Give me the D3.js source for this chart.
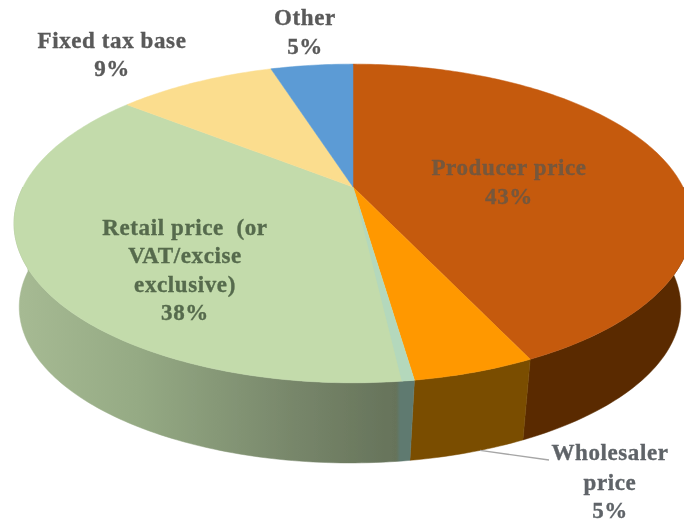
<!DOCTYPE html>
<html><head><meta charset="utf-8">
<script src="https://cdn.jsdelivr.net/npm/d3@7/dist/d3.min.js"></script>
<style>html,body{margin:0;padding:0;background:#fff}svg{display:block}text{font-family:"Liberation Serif",serif;font-weight:700;font-size:23px;letter-spacing:.6px;text-anchor:middle;stroke-width:.35px}</style>
</head><body><svg id="c" width="684" height="522"></svg>
<script>
const categories = ["Producer price","Wholesaler price","Retail price (or VAT/excise exclusive)","Fixed tax base","Other"];
const values = [43.0, 4.7, 38.0, 9.4, 4.9];
const labelLines = [["Producer price"],["Wholesaler","price"],["Retail price  (or","VAT/excise","exclusive)"],["Fixed tax base"],["Other"]];

const topColors = ["#c55a11","#ff9800","#c3dbab","#fbdd8e","#5b9bd5"];
const sideColors = ["#5a2c02","#7a4d00","url(#retailSide)","#000","#000"];
const labelColors = ["#75583c","#5f6468","#566b4d","#5a5a5a","#5a5a5a"];
const labelAnchors = [[509,175],[610,460],[185,235],[112,48],[305,25]];
const lineGaps = [[29],[30,28],[28,29,28],[28],[29]];

const svg = d3.select("#c");
const defs = svg.append("defs");
const g = defs.append("linearGradient").attr("id","retailSide").attr("gradientUnits","userSpaceOnUse")
  .attr("x1",20).attr("x2",414).attr("y1",0).attr("y2",0);
[[0,"#a6ba93"],[.3,"#95aa84"],[.7,"#77866a"],[.955,"#66735a"],[.965,"#5f7a70"],[1,"#5f7a70"]]
  .forEach(([o,c])=>g.append("stop").attr("offset",o).attr("stop-color",c));
defs.append("filter").attr("id","soft").append("feGaussianBlur").attr("stdDeviation",0.7);

// perspective projection of a disc: k foreshortens the far edge
const k = 0.2288;
const topFace = {cx:353, cy:187, bx:330, ay:151};
const baseFace = {cx:350, cy:271.3, bx:322, ay:147.8};
const project = (f,a) => {
  const d = 1 + k*Math.cos(a);
  return [f.cx + f.bx*Math.sin(a)/d, f.cy - f.ay*Math.cos(a)/d];
};
const arcPts = (f,a0,a1) => {
  const n = Math.max(2, Math.ceil(Math.abs(a1-a0)*60));
  return d3.range(n+1).map(i => project(f, a0+(a1-a0)*i/n));
};
const line = d3.line();
const slices = d3.pie().sort(null).value(d=>d)(values);

const root = svg.append("g").attr("filter","url(#soft)");

// walls (front half only)
const wallStart = Math.PI/2, wallEnd = 3*Math.PI/2;
slices.forEach((s,i)=>{
  const a0 = Math.max(s.startAngle, wallStart), a1 = Math.min(s.endAngle, wallEnd);
  if (a1 <= a0) return;
  root.append("path")
    .attr("d", line(arcPts(topFace,a0,a1).concat(arcPts(baseFace,a1,a0)))+"Z")
    .attr("fill", sideColors[i]).attr("stroke", sideColors[i]).attr("stroke-width",.5);
});
// top face
slices.forEach((s,i)=>{
  root.append("path")
    .attr("d", line([[topFace.cx,topFace.cy]].concat(arcPts(topFace,s.startAngle,s.endAngle)))+"Z")
    .attr("fill", topColors[i]).attr("stroke", topColors[i]).attr("stroke-width",.5);
});
// pale sheen along the leading edge of the retail slice
root.append("path")
  .attr("d", line([[topFace.cx,topFace.cy]].concat(arcPts(topFace,slices[2].startAngle,slices[2].startAngle+0.03)))+"Z")
  .attr("fill","#b4d8bc");
// leader line for the outside label
const w = slices[1];
root.append("path").attr("d", line([project(baseFace,w.startAngle+(w.endAngle-w.startAngle)*.4),[549,460]]))
  .attr("fill","none").attr("stroke","#a6a6a6").attr("stroke-width",1.3);

// labels
slices.forEach((s,i)=>{
  const t = root.append("text").attr("fill",labelColors[i]).attr("stroke",labelColors[i]);
  const lines = labelLines[i].concat(d3.format(".0f")(values[i])+"%");
  let y = labelAnchors[i][1];
  lines.forEach((txt,j)=>{
    t.append("tspan").attr("x",labelAnchors[i][0]).attr("y",y).attr("xml:space","preserve").text(txt);
    y += lineGaps[i][j]||0;
  });
});
</script></body></html>
